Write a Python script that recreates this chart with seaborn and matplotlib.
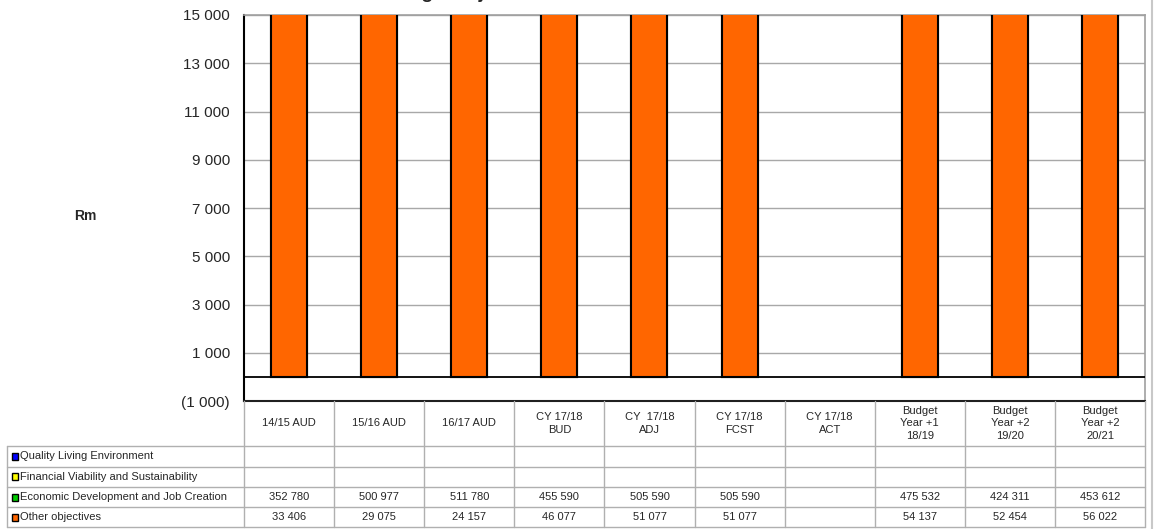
import numpy as np
import pandas as pd
import matplotlib
matplotlib.use('Agg')
import matplotlib.pyplot as plt
from matplotlib.patches import Rectangle
import seaborn as sns

# Datos del grafico
categorias = ['14/15 AUD', '15/16 AUD', '16/17 AUD', 'CY 17/18\nBUD', 'CY  17/18\nADJ',
              'CY 17/18\nFCST', 'CY 17/18\nACT', 'Budget\nYear +1\n18/19',
              'Budget\nYear +2\n19/20', 'Budget\nYear +2\n20/21']
quality = [np.nan] * 10
financial = [np.nan] * 10
economic = [352780, 500977, 511780, 455590, 505590, 505590, np.nan, 475532, 424311, 453612]
other = [33406, 29075, 24157, 46077, 51077, 51077, np.nan, 54137, 52454, 56022]

series = ['Quality Living Environment', 'Financial Viability and Sustainability',
          'Economic Development and Job Creation', 'Other objectives']
colores = ['#0000FF', '#FFFF00', '#00CC00', '#FF6600']
ticks_y = list(range(-1000, 15001, 2000))

df = pd.DataFrame({'cat': categorias, 'quality': quality, 'financial': financial,
                   'economic': economic, 'other': other})
df['total'] = df['other'] + df['economic']

sns.set_style('white')
plt.rcParams['font.family'] = ['Liberation Sans', 'DejaVu Sans']

W, H = 1154, 529
fig = plt.figure(figsize=(W / 100, H / 100), dpi=100)

# area del grafico en pixeles
x0, x1, y0, y1 = 244, 1145, 15, 401
ax = fig.add_axes([x0 / W, 1 - y1 / H, (x1 - x0) / W, (y1 - y0) / H])

# barras apiladas: total (verde) y encima la base (naranja)
sns.barplot(data=df, x='cat', y='total', order=categorias, color=colores[2],
            width=0.4, edgecolor='black', linewidth=1.5, saturation=1, ax=ax, zorder=3)
sns.barplot(data=df, x='cat', y='other', order=categorias, color=colores[3],
            width=0.4, edgecolor='black', linewidth=1.5, saturation=1, ax=ax, zorder=4)

ax.set_ylim(-1000, 15000)
ax.set_xlim(-0.5, len(categorias) - 0.5)
ax.set_yticks(ticks_y)


def fmt(v):
    s = f'{abs(v):,}'.replace(',', ' ')
    return f'({s})' if v < 0 else s


ax.set_yticklabels([fmt(v) for v in ticks_y], fontsize=11)
ax.set_xticks([])
ax.set_xlabel('')
ax.set_ylabel('')
ax.tick_params(axis='y', length=6, color='#A0A0A0', pad=4)
for t in ticks_y:
    ax.axhline(t, color='#A8A8A8', lw=1, zorder=1)
ax.axhline(0, color='black', lw=1.3, zorder=5)
for s in ['top', 'right']:
    ax.spines[s].set_color('#A0A0A0')
    ax.spines[s].set_linewidth(1.2)
ax.spines['left'].set_color('black')
ax.spines['left'].set_linewidth(1.5)
ax.spines['bottom'].set_color('#202020')
ax.spines['bottom'].set_linewidth(1.5)

fig.text(85 / W, 1 - 216 / H, 'Rm', fontsize=10, fontweight='bold', ha='center', va='center')

# titulo (cortado arriba en la imagen original, solo se ven los descendentes)
fig.text(366 / W, 1 + 1.5 / H, 'Strategic objectives', fontsize=14, fontweight='bold',
         ha='left', va='baseline')

# tabla de datos bajo el grafico
tab = fig.add_axes([0, 0, 1, 1])
tab.set_xlim(0, W)
tab.set_ylim(H, 0)
tab.axis('off')
tab.patch.set_alpha(0)

col_w = (x1 - x0) / len(categorias)
filas = [446, 466.5, 487, 507, 527]
izq = 7
gris = '#B0B0B0'

for k in range(len(categorias) + 1):
    xc = x0 + k * col_w
    tab.plot([xc, xc], [y1, filas[-1]], color=gris, lw=1)
tab.plot([izq, izq], [filas[0], filas[-1]], color=gris, lw=1)
for yf in filas:
    tab.plot([izq, x1], [yf, yf], color=gris, lw=1)
tab.plot([1152, 1152], [0, H], color='#C8C8C8', lw=1.5)

for k, c in enumerate(categorias):
    tab.text(x0 + (k + 0.5) * col_w, (y1 + filas[0]) / 2, c, fontsize=8,
             ha='center', va='center', linespacing=1.3)

valores = [quality, financial, economic, other]
for i, (nombre, col, vals) in enumerate(zip(series, colores, valores)):
    ym = (filas[i] + filas[i + 1]) / 2
    tab.add_patch(Rectangle((12, ym - 3.5), 6, 7, facecolor=col, edgecolor='black', lw=1))
    tab.text(20, ym, nombre, fontsize=8, ha='left', va='center')
    for k, v in enumerate(vals):
        if not np.isnan(v):
            tab.text(x0 + (k + 0.5) * col_w, ym, fmt(int(v)), fontsize=8,
                     ha='center', va='center')

fig.savefig('out.png', dpi=100)
